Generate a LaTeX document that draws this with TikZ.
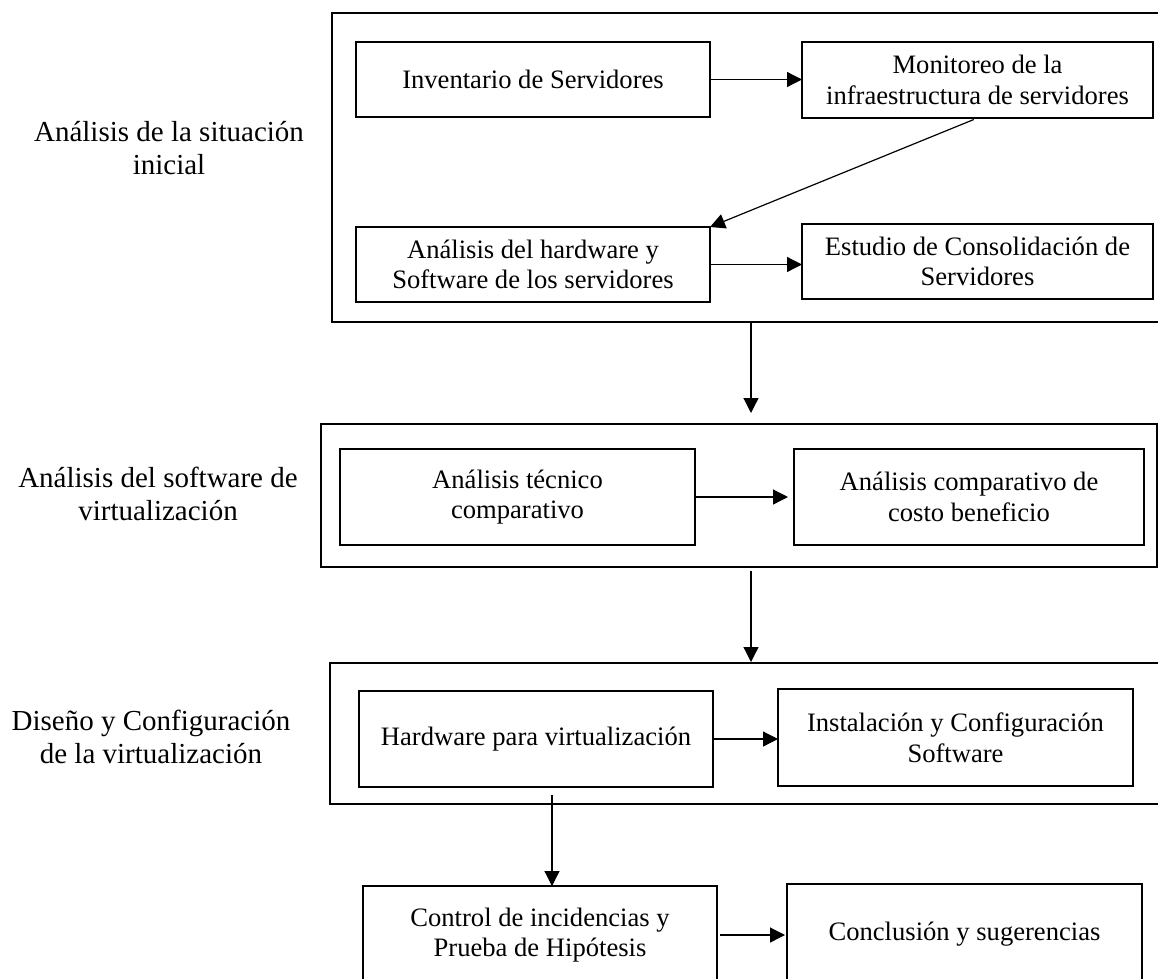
\documentclass[tikz,border=0pt]{standalone}
\usepackage{fontspec}
\setmainfont{Liberation Serif}
\usetikzlibrary{arrows.meta}
\tikzset{
  frame/.style={draw, line width=2.5pt, inner sep=0pt, outer sep=0pt},
  stepbox/.style={draw, line width=2.5pt, inner sep=0pt, outer sep=0pt, align=center,
    font=\fontsize{26.6}{30.6}\selectfont},
  sidelabel/.style={align=center, inner sep=0pt, font=\fontsize{29}{33.5}\selectfont},
  arr/.style={line width=1.2pt, -{Triangle[length=15pt,width=15pt]}}
}
\begin{document}
\begin{tikzpicture}[x=1pt,y=-1pt]
\useasboundingbox (0,0) rectangle (1158,978);
\fill[white] (0,0) rectangle (1158,978);
% outer frames
\node[frame, minimum width=838pt, minimum height=309pt] (f1) at (751,167.5) {};
\node[frame, minimum width=836pt, minimum height=143pt] (f2) at (739,495.5) {};
\node[frame, minimum width=840pt, minimum height=141pt] (f3) at (750,733.5) {};
% boxes
\node[stepbox, minimum width=354pt, minimum height=75pt] (inv) at (533,79.5) {Inventario de Servidores};
\node[stepbox, minimum width=351pt, minimum height=76pt] (mon) at (977.5,80) {Monitoreo de la\\infraestructura de servidores};
\node[stepbox, minimum width=354pt, minimum height=75pt] (ahw) at (533,264.5) {Análisis del hardware y\\Software de los servidores};
\node[stepbox, minimum width=351pt, minimum height=75pt] (est) at (977.5,261.5) {Estudio de Consolidación de\\Servidores};
\node[stepbox, minimum width=355pt, minimum height=96pt] (atc) at (517.5,497) {Análisis técnico\\comparativo};
\node[stepbox, minimum width=350pt, minimum height=96pt] (acb) at (969,497) {Análisis comparativo de\\costo beneficio};
\node[stepbox, minimum width=354pt, minimum height=96pt] (hw) at (536,739) {Hardware para virtualización};
\node[stepbox, minimum width=355pt, minimum height=97pt] (ins) at (955.5,737.5) {Instalación y Configuración\\Software};
\node[stepbox, minimum width=354pt, minimum height=98pt] (ctl) at (540,935) {Control de incidencias y\\Prueba de Hipótesis};
\node[stepbox, minimum width=355pt, minimum height=100pt] (con) at (964.5,934) {Conclusión y sugerencias};
% side labels
\node[sidelabel] (l1) at (169,148) {Análisis de la situación\\inicial};
\node[sidelabel] (l2) at (158,494) {Análisis del software de\\virtualización};
\node[sidelabel] (l3) at (151,737) {Diseño y Configuración\\de la virtualización};
% connectors
\coordinate (vx) at (552,0);
\draw[arr] (inv.east) -- (inv.east -| mon.west);
\draw[arr, shorten <=4pt] (mon.south) -- (ahw.north east);
\draw[arr] (ahw.east) -- (ahw.east -| est.west);
\draw[arr, shorten >=11pt] (f1.south) -- (f1.south |- f2.north);
\draw[arr, shorten >=6pt] (atc.east) -- (atc.east -| acb.west);
\draw[arr, shorten <=4pt, shorten >=1pt] (f1.south |- f2.south) -- (f1.south |- f3.north);
\draw[arr] (hw.east) -- (hw.east -| ins.west);
\draw[arr, shorten <=8pt] (vx |- hw.south) -- (vx |- ctl.north);
\draw[arr, shorten <=3pt, shorten >=2pt] (ctl.east) -- (ctl.east -| con.west);
\end{tikzpicture}
\end{document}
